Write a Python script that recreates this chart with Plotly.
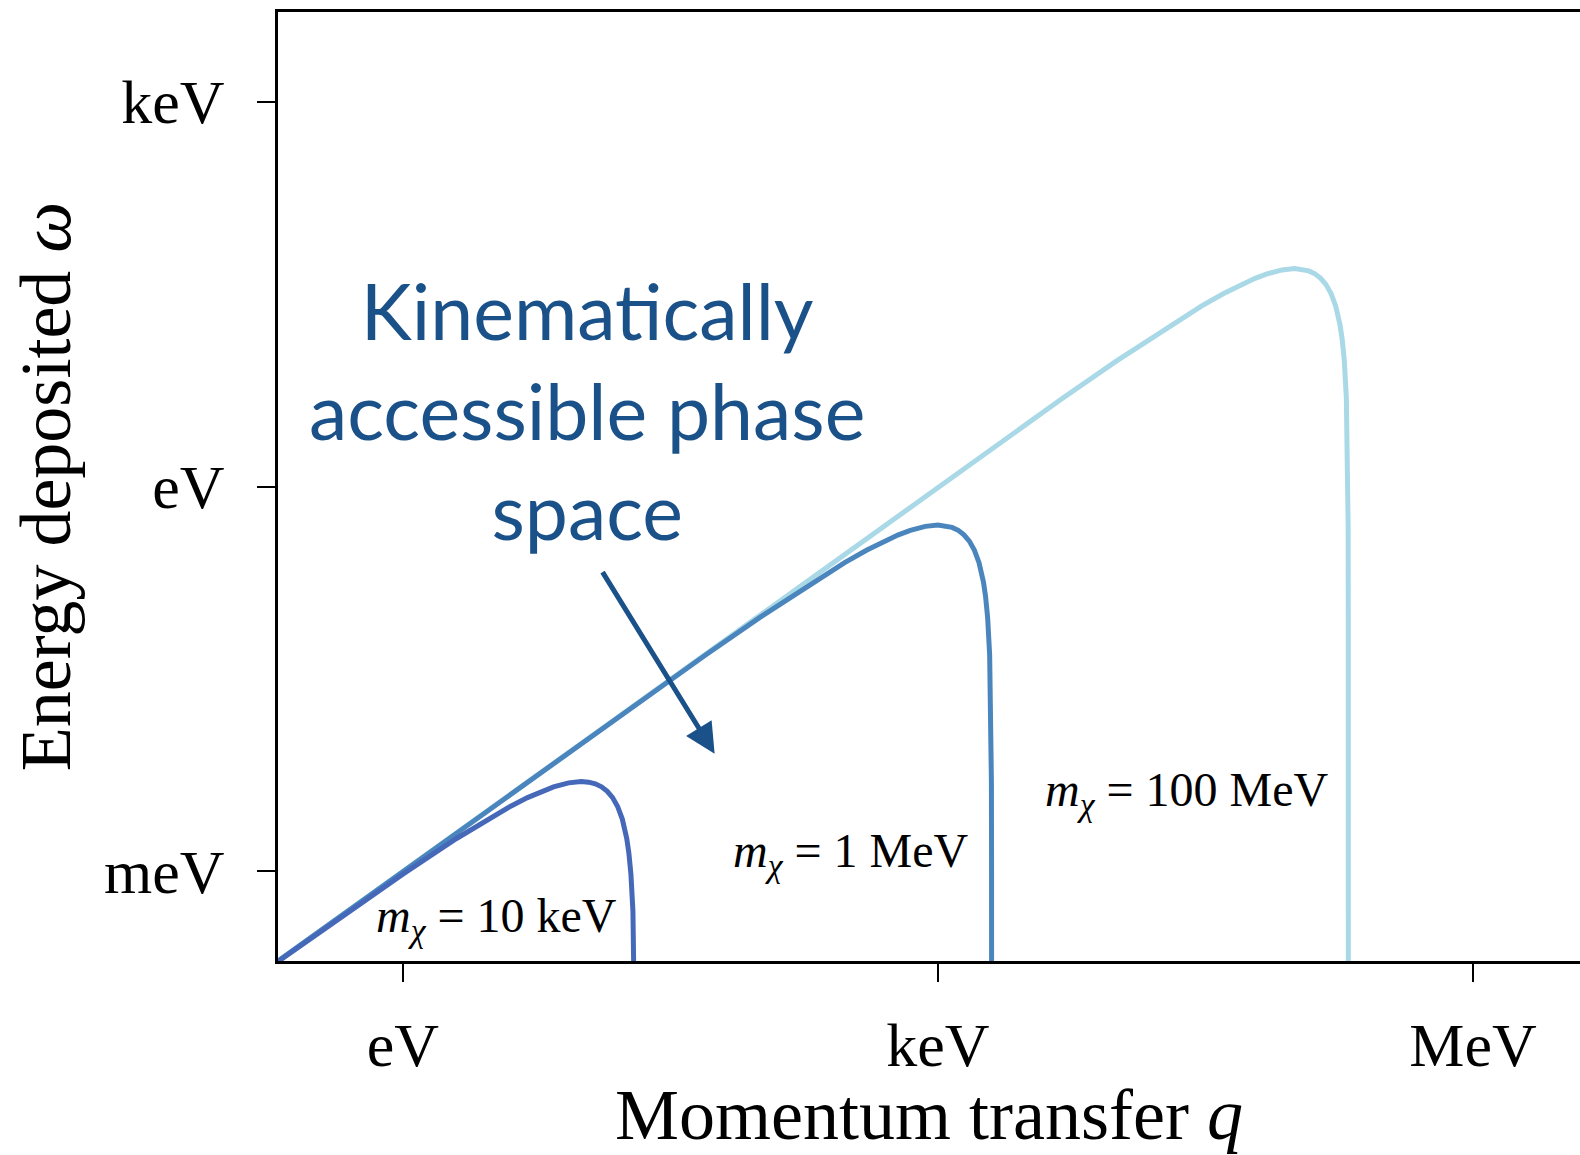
import plotly.graph_objects as go

# ---- data (eV units) ----
q_10keV = [0.2, 0.5, 1, 2, 3, 4, 5, 6, 7, 8.5, 10, 11, 12, 13, 14, 15, 16, 17, 17.5, 18,
           18.5, 19, 19.5, 19.8, 19.9, 19.95]
w_10keV = [1.98e-4, 4.875e-4, 9.5e-4, 1.8e-3, 2.55e-3, 3.2e-3, 3.75e-3, 4.2e-3, 4.55e-3,
           4.8875e-3, 5.0e-3, 4.95e-3, 4.8e-3, 4.55e-3, 4.2e-3, 3.75e-3, 3.2e-3, 2.55e-3,
           2.1875e-3, 1.8e-3, 1.3875e-3, 9.5e-4, 4.875e-4, 1.98e-4, 9.95e-5, 4.99e-5]

q_1MeV = [0.2, 2, 20, 50, 100, 200, 300, 400, 500, 600, 700, 850, 1000, 1100, 1200, 1300,
          1400, 1500, 1600, 1700, 1750, 1800, 1850, 1900, 1950, 1980, 1990, 1995, 1999, 1999.9]
w_1MeV = [2.0e-4, 1.998e-3, 0.0198, 0.04875, 0.095, 0.18, 0.255, 0.32, 0.375, 0.42, 0.455,
          0.48875, 0.5, 0.495, 0.48, 0.455, 0.42, 0.375, 0.32, 0.255, 0.21875, 0.18, 0.13875,
          0.095, 0.04875, 0.0198, 0.00995, 0.0049875, 0.0009995, 1.0e-4]

q_100MeV = [0.2, 2, 20, 200, 2000, 5000, 10000, 20000, 30000, 40000, 50000, 60000, 70000,
            85000, 100000, 110000, 120000, 130000, 140000, 150000, 160000, 170000, 175000,
            180000, 185000, 190000, 195000, 198000, 199000, 199500, 199900, 199990, 199999,
            199999.9]
w_100MeV = [2.0e-4, 2.0e-3, 0.019998, 0.1998, 1.98, 4.875, 9.5, 18, 25.5, 32, 37.5, 42, 45.5,
            48.875, 50, 49.5, 48, 45.5, 42, 37.5, 32, 25.5, 21.875, 18, 13.875, 9.5, 4.875,
            1.98, 0.995, 0.49875, 0.09995, 0.0099995, 0.001, 1.0e-4]

x_tick_vals = [1, 1e3, 1e6]
x_tick_text = ["eV", "keV", "MeV"]
y_tick_vals = [1e-3, 1, 1e3]
y_tick_text = ["meV", "eV", "keV"]

serif = "Liberation Serif, Times New Roman, serif"
sans = "Lato, Open Sans, sans-serif"

fig = go.Figure()
fig.add_trace(go.Scatter(x=q_100MeV, y=w_100MeV, mode="lines",
                         line=dict(color="#a9d8e6", width=5), showlegend=False))
fig.add_trace(go.Scatter(x=q_1MeV, y=w_1MeV, mode="lines",
                         line=dict(color="#4a86bd", width=5), showlegend=False))
fig.add_trace(go.Scatter(x=q_10keV, y=w_10keV, mode="lines",
                         line=dict(color="#4568b8", width=5), showlegend=False))

ann_font = dict(family=serif, size=48, color="black")
fig.add_annotation(x=0.527, y=-3.37, xref="x", yref="y", showarrow=False,
                   text="<i>m</i><sub><i>χ</i></sub> = 10 keV", font=ann_font)
fig.add_annotation(x=2.515, y=-2.863, xref="x", yref="y", showarrow=False,
                   text="<i>m</i><sub><i>χ</i></sub> = 1 MeV", font=ann_font)
fig.add_annotation(x=4.398, y=-2.387, xref="x", yref="y", showarrow=False,
                   text="<i>m</i><sub><i>χ</i></sub> = 100 MeV", font=ann_font)

fig.add_annotation(x=1.03, y=0.6, xref="x", yref="y", showarrow=False,
                   text="Kinematically<br>accessible phase<br>space",
                   font=dict(family=sans, size=77, color="#1b5189"), align="center")

fig.add_annotation(x=1.748, y=-2.083, xref="x", yref="y", showarrow=True,
                   ax=-113, ay=-183, axref="pixel", ayref="pixel",
                   arrowhead=2, arrowsize=1.2, arrowwidth=5, arrowcolor="#1b5189", text="")

fig.update_layout(
    width=1580, height=1155,
    margin=dict(l=278, r=0, t=12, b=194),
    paper_bgcolor="white", plot_bgcolor="white",
    xaxis=dict(type="log", range=[-0.7, 6.6], tickvals=x_tick_vals, ticktext=x_tick_text,
               showgrid=False, zeroline=False, showline=True, linecolor="black", linewidth=3,
               mirror=True, ticks="outside", ticklen=18, tickwidth=2, tickcolor="black",
               ticklabelstandoff=10,
               tickfont=dict(family=serif, size=62, color="black"),
               title=dict(text="Momentum transfer <i>q</i>", standoff=6,
                          font=dict(family=serif, size=72, color="black"))),
    yaxis=dict(type="log", range=[-3.7, 3.7], tickvals=y_tick_vals, ticktext=y_tick_text,
               showgrid=False, zeroline=False, showline=True, linecolor="black", linewidth=3,
               mirror=False, ticks="outside", ticklen=18, tickwidth=2, tickcolor="black",
               ticklabelstandoff=20,
               tickfont=dict(family=serif, size=62, color="black"),
               title=dict(text="Energy deposited <i>ω</i>", standoff=10,
                          font=dict(family=serif, size=72, color="black"))),
)

fig.write_html("out.html")
